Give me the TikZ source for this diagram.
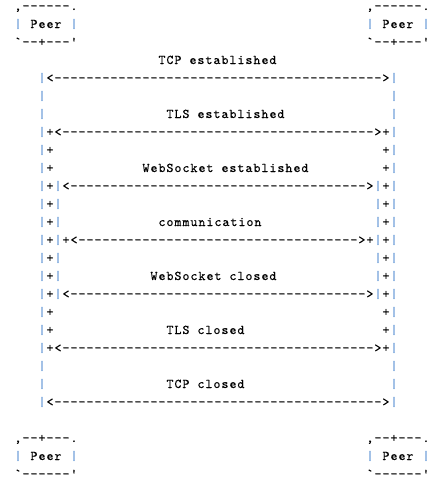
\documentclass[tikz,border=0pt]{standalone}
\usepackage{fontspec}
\newfontfamily\asciifont{lmmono10-regular.otf}[LetterSpace=7.5,Ligatures=TeXOff,FakeBold=0.35]
\usetikzlibrary{positioning}
\definecolor{pipeblue}{RGB}{45,115,200}
\tikzset{
  chr/.style={anchor=base west, inner sep=0pt, outer sep=0pt,
    font=\asciifont\fontsize{13.33}{16}\selectfont},
  pipe/.style={chr, text=pipeblue},
}
\newcommand\dashrun[1]{\foreach \i in {1,...,#1}{-}}
\begin{document}
\begin{tikzpicture}[x=8pt,y=-18pt]
  \useasboundingbox (-14.5pt,10pt) rectangle (431.5pt,-481pt);
  % peers
  \foreach \c/\nm in {0/pa,44/pb} {
    \node[chr] (\nm top) at (\c,0) {,------.};
    \node[pipe] (\nm l) at (\c,1) {|};
    \node[chr] (\nm) at (\c+2,1) {Peer};
    \node[pipe] (\nm r) at (\c+7,1) {|};
    \node[chr] (\nm bot) at (\c,2) {`--+---'};
    \node[chr] (\nm top2) at (\c,24) {,--+---.};
    \node[pipe] (\nm l2) at (\c,25) {|};
    \node[chr] (\nm 2) at (\c+2,25) {Peer};
    \node[pipe] (\nm r2) at (\c+7,25) {|};
    \node[chr] (\nm bot2) at (\c,26) {`------'};
  }
  % lifelines
  \foreach \r in {4,...,22} {
    \node[pipe] (la\r) at (3,\r) {|};
    \node[pipe] (ra\r) at (47,\r) {|};
  }
  \foreach \r in {7,...,19} {
    \node[chr] (lb\r) at (4,\r) {+};
    \node[chr] (rb\r) at (46,\r) {+};
  }
  \foreach \r in {10,...,16} {
    \node[pipe] (lc\r) at (5,\r) {|};
    \node[pipe] (rc\r) at (45,\r) {|};
  }
  \node[chr] (ld13) at (6,13) {+};
  \node[chr] (rd13) at (44,13) {+};
  % messages
  \foreach \r/\c/\n in {4/4/41,7/5/39,10/6/37,13/7/35,16/6/37,19/5/39,22/4/41}
    \node[chr] (msg\r) at (\c,\r) {<\dashrun{\n}>};
  \foreach \r/\c/\t in {3/18/TCP established,6/19/TLS established,9/16/WebSocket established,
      12/18/communication,15/17/WebSocket closed,18/19/TLS closed,21/19/TCP closed}
    \node[chr] (lbl\r) at (\c,\r) {\t};
\end{tikzpicture}
\end{document}
